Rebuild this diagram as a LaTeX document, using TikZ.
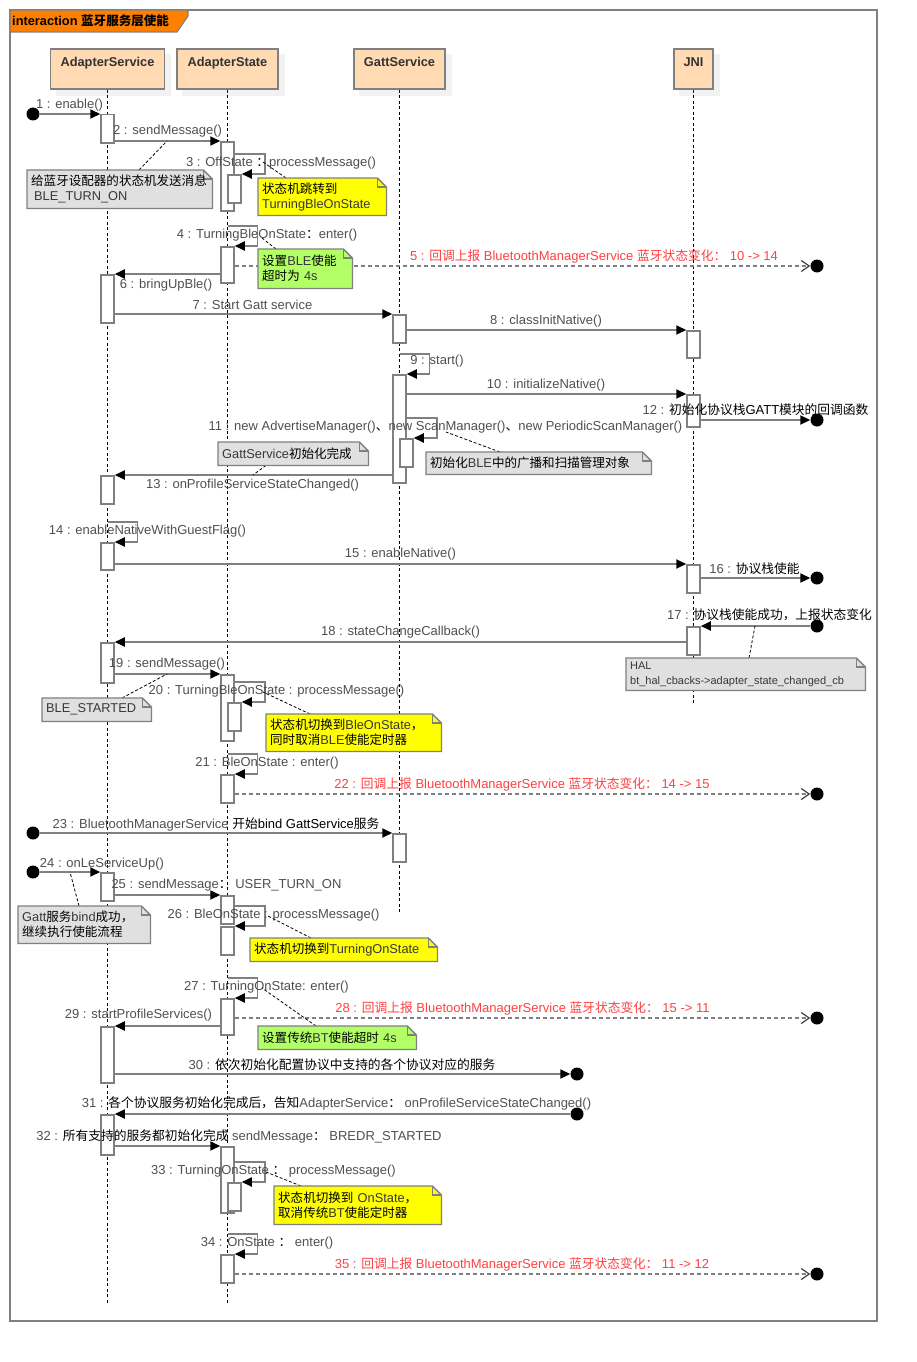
\documentclass[tikz,border=0pt]{standalone}
\usepackage{fontspec}
\setmainfont{Liberation Sans}
\newfontfamily\zhf{Noto Sans CJK SC}[Scale=0.98]
\usetikzlibrary{arrows.meta,calc}
\definecolor{lg}{HTML}{808080}
\definecolor{peach}{HTML}{FFDAB3}
\definecolor{shadowc}{HTML}{F2F2F2}
\definecolor{labc}{HTML}{505050}
\definecolor{redc}{HTML}{FF4040}
\definecolor{notec}{HTML}{383838}
\definecolor{notegray}{HTML}{E0E0E0}
\definecolor{noteyel}{HTML}{FFFF00}
\definecolor{notegrn}{HTML}{B3FF66}
\definecolor{tabor}{HTML}{FF8000}
\definecolor{headtext}{HTML}{333333}
\pgfdeclarelayer{back}\pgfdeclarelayer{notebg}\pgfdeclarelayer{fg}
\pgfsetlayers{back,main,notebg,fg}
\newcommand\zh[1]{{\zhf #1}}
\newcommand\zk[1]{{\zhf\color{black}#1}}
\newcommand\actbar[4]{\node[actbar,minimum height=#4pt,anchor=north] (#1) at (#2,#3) {};}
\newcommand\notebox[7]{%
  \pgfmathsetlengthmacro\ntw{#4pt-8pt}%
  \begin{pgfonlayer}{fg}
    \node[notetext,minimum width=#4pt,minimum height=#5pt,text width=\ntw,anchor=north west] (#1) at (#2,#3) {#7};
  \end{pgfonlayer}
  \begin{pgfonlayer}{notebg}
    \draw[noteline,fill=#6] (#1.north west) -- ([xshift=-9pt]#1.north east) -- ([yshift=-9pt]#1.north east) -- (#1.south east) -- (#1.south west) -- cycle;
    \draw[noteline] ([xshift=-9pt]#1.north east) |- ([yshift=-9pt]#1.north east);
  \end{pgfonlayer}}
\begin{document}
\begin{tikzpicture}[x=1pt,y=-1pt,
  font=\fontsize{13}{15}\selectfont,
  lifehead/.style={draw=lg,line width=1.5pt,fill=peach,minimum height=40pt,inner sep=0pt,
    font=\fontsize{12.8}{15}\selectfont\bfseries,text=headtext,text height=9pt,text depth=14pt},
  lifeline/.style={draw=black,line width=0.8pt,dash pattern=on 3pt off 2.5pt},
  actbar/.style={draw=lg,line width=1.5pt,fill=white,minimum width=13pt,inner sep=0pt},
  msg/.style={draw=lg,line width=1.8pt,-{Triangle[length=10pt,width=9pt,color=black]}},
  retmsg/.style={draw=lg,line width=1.8pt,dash pattern=on 4pt off 3pt,
    -{Straight Barb[length=8pt,width=11pt,line width=1.2pt,color=black!75]}},
  dot/.style={circle,fill=black,minimum size=13pt,inner sep=0pt},
  lbl/.style={text=labc,inner sep=0pt,yshift=-1.5pt},
  rlbl/.style={text=redc,inner sep=0pt,yshift=-1.5pt},
  notetext/.style={align=left,inner xsep=4pt,inner ysep=2pt,text=notec,font=\fontsize{12.8}{15}\selectfont},
  noteline/.style={draw=lg,line width=1.3pt},
  nconn/.style={draw=black,line width=0.8pt,dash pattern=on 3pt off 2pt}]
\useasboundingbox (0,0) rectangle (917,1362);
\begin{pgfonlayer}{back}
  \fill[white] (0,0) rectangle (917,1362);
\end{pgfonlayer}
% frame and title
\draw[lg,line width=1.5pt] (10,10) rectangle (877,1321);
\filldraw[fill=tabor,draw=lg,line width=1.2pt] (10,10) -- (188,10) -- (188,16) -- (177,32) -- (10,32) -- cycle;
\node[anchor=west,inner sep=0pt,font=\fontsize{12.8}{15}\selectfont\bfseries] (title) at (12,21) {interaction \zh{蓝牙服务层使能}};
% lifeline heads
\node[lifehead,minimum width=114pt] (AS) at (107.5,69) {AdapterService};
\node[lifehead,minimum width=101pt] (ST) at (227.5,69) {AdapterState};
\node[lifehead,minimum width=91pt] (GS) at (399.5,69) {GattService};
\node[lifehead,minimum width=39pt] (JN) at (693.5,69) {JNI};
\coordinate (ASend) at (107.5,1304);
\coordinate (STend) at (227.5,1304);
\coordinate (GSend) at (399.5,913);
\coordinate (JNend) at (693.5,705);
\begin{pgfonlayer}{back}
  \foreach \h in {AS,ST,GS,JN}{
    \fill[shadowc] ([shift={(6pt,-6pt)}]\h.north west) rectangle ([shift={(6pt,-6pt)}]\h.south east);}
  \draw[lifeline] (AS.south) -- (ASend);
  \draw[lifeline] (ST.south) -- (STend);
  \draw[lifeline] (GS.south) -- (GSend);
  \draw[lifeline] (JN.south) -- (JNend);
\end{pgfonlayer}
% activation bars
\actbar{a1}{107.5}{114}{28}
\actbar{a2}{107.5}{274}{48}
\actbar{a3}{107.5}{475}{28}
\actbar{a4}{107.5}{542}{27}
\actbar{a5}{107.5}{642}{40}
\actbar{a6}{107.5}{872}{28}
\actbar{a7}{107.5}{1026}{56}
\actbar{a8}{107.5}{1114}{40}
\actbar{s1}{227.5}{141}{69}
\actbar{s1b}{234.5}{174}{28}
\actbar{s2}{227.5}{246}{36}
\actbar{s3}{227.5}{674}{66}
\actbar{s3b}{234.5}{702}{28}
\actbar{s4}{227.5}{774}{28}
\actbar{s5}{227.5}{895}{28}
\actbar{s5b}{227.5}{926}{28}
\actbar{s6}{227.5}{998}{36}
\actbar{s7}{227.5}{1146}{66}
\actbar{s7b}{234.5}{1182}{28}
\actbar{s8}{227.5}{1254}{28}
\actbar{g1}{399.5}{314}{28}
\actbar{g2}{399.5}{374}{108}
\actbar{g2b}{406.5}{438}{28}
\actbar{g3}{399.5}{833}{28}
\actbar{j1}{693.5}{330}{27}
\actbar{j2}{693.5}{394}{32}
\actbar{j3}{693.5}{564}{28}
\actbar{j4}{693.5}{626}{28}
% end points
\node[dot] (f1) at (33,114) {};
\node[dot] (e5) at (817,266) {};
\node[dot] (e12) at (817,420) {};
\node[dot] (e16) at (817,578) {};
\node[dot] (f17) at (817,626) {};
\node[dot] (e22) at (817,794) {};
\node[dot] (f23) at (33,833) {};
\node[dot] (f24) at (33,872) {};
\node[dot] (e28) at (817,1018) {};
\node[dot] (e30) at (577,1074) {};
\node[dot] (f31) at (577,1114) {};
\node[dot] (e35) at (817,1274) {};
\coordinate (t3) at ([yshift=20pt]s1b.north);
\coordinate (t11) at ([yshift=20pt]g2b.north);
\coordinate (t20) at ([yshift=20pt]s3b.north);
\coordinate (t26) at ([yshift=20pt]s5b.north);
\coordinate (t33) at ([yshift=20pt]s7b.north);
% messages
\draw[msg] (f1) -- (a1.north west);
\draw[msg] (s1.north west -| a1.east) -- (s1.north west);
\draw[msg] (t3 -| s1.east) -- ++(30,0) |- (s1b.north east);
\draw[msg] ([yshift=20pt]s2.north) -- ++(30,0) |- (s2.north east);
\draw[retmsg] (e5 -| s2.east) -- (e5);
\draw[msg] (a2.north east -| s2.west) -- (a2.north east);
\draw[msg] (g1.north west -| a2.east) -- (g1.north west);
\draw[msg] (j1.north west -| g1.east) -- (j1.north west);
\draw[msg] ([yshift=20pt]g2.north) -- ++(30,0) |- (g2.north east);
\draw[msg] (j2.north west -| g2.east) -- (j2.north west);
\draw[msg] (t11 -| g2.east) -- ++(30,0) |- (g2b.north east);
\draw[msg] (e12 -| j2.east) -- (e12);
\draw[msg] (a3.north east -| g2.west) -- (a3.north east);
\draw[msg] ([yshift=20pt]a4.north) -- ++(30,0) |- (a4.north east);
\draw[msg] (j3.north west -| a4.east) -- (j3.north west);
\draw[msg] (e16 -| j3.east) -- (e16);
\draw[msg] (f17) -- (j4.north east);
\draw[msg] (a5.north east -| j4.west) -- (a5.north east);
\draw[msg] (s3.north west -| a5.east) -- (s3.north west);
\draw[msg] (t20 -| s3.east) -- ++(30,0) |- (s3b.north east);
\draw[msg] ([yshift=20pt]s4.north) -- ++(30,0) |- (s4.north east);
\draw[retmsg] (e22 -| s4.east) -- (e22);
\draw[msg] (f23) -- (g3.north west);
\draw[msg] (f24) -- (a6.north west);
\draw[msg] (s5.north west -| a6.east) -- (s5.north west);
\draw[msg] (t26 -| s5.east) -- ++(30,0) |- (s5b.north east);
\draw[msg] ([yshift=20pt]s6.north) -- ++(30,0) |- (s6.north east);
\draw[retmsg] (e28 -| s6.east) -- (e28);
\draw[msg] (a7.north east -| s6.west) -- (a7.north east);
\draw[msg] (e30 -| a7.east) -- (e30);
\draw[msg] (f31) -- (a8.north east);
\draw[msg] (s7.north west -| a8.east) -- (s7.north west);
\draw[msg] (t33 -| s7.east) -- ++(30,0) |- (s7b.north east);
\draw[msg] ([yshift=20pt]s8.north) -- ++(30,0) |- (s8.north east);
\draw[retmsg] (e35 -| s8.east) -- (e35);
% labels
\node[lbl] (l1) at (69.5,104) {1 : enable()};
\node[lbl] (l2) at (167.5,130) {2 : sendMessage()};
\node[lbl] (l3) at (281,162) {3 : OffState \zk{：}processMessage()};
\node[lbl] (l4) at (267,234) {4 : TurningBleOnState\zk{：}enter()};
\node[rlbl] (l5) at (594,255) {5 : \zh{回调上报} BluetoothManagerService \zh{蓝牙状态变化：} 10 -> 14};
\node[lbl] (l6) at (166,284) {6 : bringUpBle()};
\node[lbl] (l7) at (252.5,303) {7 : Start Gatt service};
\node[lbl] (l8) at (546,320) {8 : classInitNative()};
\node[lbl] (l9) at (437,360) {9 : start()};
\node[lbl] (l10) at (546,384) {10 : initializeNative()};
\node[lbl] (l11) at (445.5,426) {11 : new AdvertiseManager()\zk{、}new ScanManager()\zk{、}new PeriodicScanManager()};
\node[lbl] (l12) at (755.5,408) {12 : {\color{black}\zh{初始化协议栈}GATT\zh{模块的回调函数}}};
\node[lbl] (l13) at (252.5,484) {13 : onProfileServiceStateChanged()};
\node[lbl] (l14) at (147.5,530) {14 : enableNativeWithGuestFlag()};
\node[lbl] (l15) at (400.5,553) {15 : enableNative()};
\node[lbl] (l16) at (754.5,567) {16 : \zk{协议栈使能}};
\node[lbl] (l17) at (769.5,613) {17 : \zk{协议栈使能成功，上报状态变化}};
\node[lbl] (l18) at (400.5,631) {18 : stateChangeCallback()};
\node[lbl] (l19) at (167,663) {19 : sendMessage()};
\node[lbl] (l20) at (276.5,690) {20 : TurningBleOnState : processMessage()};
\node[lbl] (l21) at (267,762) {21 : BleOnState : enter()};
\node[rlbl] (l22) at (522,783) {22 : \zh{回调上报} BluetoothManagerService \zh{蓝牙状态变化：} 14 -> 15};
\node[lbl] (l23) at (216,823) {23 : BluetoothManagerService {\color{black}\zh{开始}bind GattService\zh{服务}}};
\node[lbl] (l24) at (102,863) {24 : onLeServiceUp()};
\node[lbl] (l25) at (226.5,884) {25 : sendMessage\zk{：} USER\_TURN\_ON};
\node[lbl] (l26) at (273.5,914) {26 : BleOnState : processMessage()};
\node[lbl] (l27) at (266.5,986) {27 : TurningOnState: enter()};
\node[rlbl] (l28) at (522.5,1007) {28 : \zh{回调上报} BluetoothManagerService \zh{蓝牙状态变化：} 15 -> 11};
\node[lbl] (l29) at (138.5,1014) {29 : startProfileServices()};
\node[lbl] (l30) at (342,1063) {30 : \zk{依次初始化配置协议中支持的各个协议对应的服务}};
\node[lbl] (l31) at (336.5,1102) {31 : \zk{各个协议服务初始化完成后，告知}AdapterService\zk{：} onProfileServiceStateChanged()};
\node[lbl] (l32) at (239,1135) {32 : \zk{所有支持的服务都初始化完成} sendMessage\zk{：} BREDR\_STARTED};
\node[lbl] (l33) at (273.5,1170) {33 : TurningOnState \zk{：} processMessage()};
\node[lbl] (l34) at (267,1242) {34 : OnState \zk{：} enter()};
\node[rlbl] (l35) at (522,1263) {35 : \zh{回调上报} BluetoothManagerService \zh{蓝牙状态变化：} 11 -> 12};
% notes
\notebox{N2}{27}{170}{185}{38}{notegray}{\zk{给蓝牙设配器的状态机发送消息}\\\hspace*{3pt}BLE\_TURN\_ON}
\notebox{N3}{258}{178}{128}{37}{noteyel}{\zk{状态机跳转到}\\TurningBleOnState}
\notebox{N4}{258}{249}{94}{39}{notegrn}{\zk{设置}BLE\zk{使能}\\\zk{超时为} 4s}
\notebox{N11}{426}{452}{225}{22}{notegray}{\zk{初始化}BLE\zk{中的广播和扫描管理对象}}
\notebox{N13}{218}{442}{150}{23}{notegray}{GattService\zk{初始化完成}}
\notebox{N17}{626}{658}{239}{32}{notegray}{\fontsize{11}{12}\selectfont HAL\\bt\_hal\_cbacks->adapter\_state\_changed\_cb}
\notebox{N19}{42}{698}{109}{23}{notegray}{BLE\_STARTED}
\notebox{N20}{266}{714}{175}{37}{noteyel}{\zk{状态机切换到}BleOnState\zk{，}\\\zk{同时取消}BLE\zk{使能定时器}}
\notebox{N24}{18}{906}{132}{37}{notegray}{Gatt\zk{服务}bind\zk{成功，}\\\zk{继续执行使能流程}}
\notebox{N26}{250}{938}{187}{23}{noteyel}{\zk{状态机切换到}TurningOnState}
\notebox{N27}{258}{1026}{158}{23}{notegrn}{\zk{设置传统}BT\zk{使能超时} 4s}
\notebox{N33}{274}{1186}{167}{38}{noteyel}{\zk{状态机切换到} OnState\zk{，}\\\zk{取消传统}BT\zk{使能定时器}}
% note connectors
\coordinate (c2) at (167,141);
\coordinate (c3) at (263,162);
\coordinate (c4) at (262,238);
\coordinate (c11) at (446,432);
\coordinate (c13) at (253,475);
\coordinate (c17) at (755,626);
\coordinate (c19) at (167,674);
\coordinate (c20) at (263,692);
\coordinate (c24) at (70,872);
\coordinate (c26) at (268,916);
\coordinate (c27) at (262,988);
\coordinate (c33) at (266,1172);
\draw[nconn] ([xshift=112pt]N2.north west) -- (c2);
\draw[nconn] ([xshift=28pt]N3.north west) -- (c3);
\draw[nconn] ([xshift=18pt]N4.north west) -- (c4);
\draw[nconn] ([xshift=74pt]N11.north west) -- (c11);
\draw[nconn] ([xshift=48pt]N13.south west) -- (c13);
\draw[nconn] ([xshift=123pt]N17.north west) -- (c17);
\draw[nconn] ([xshift=80pt]N19.north west) -- (c19);
\draw[nconn] ([xshift=44pt]N20.north west) -- (c20);
\draw[nconn] ([xshift=61pt]N24.north west) -- (c24);
\draw[nconn] ([xshift=61pt]N26.north west) -- (c26);
\draw[nconn] ([xshift=58pt]N27.north west) -- (c27);
\draw[nconn] ([xshift=27pt]N33.north west) -- (c33);
\end{tikzpicture}
\end{document}
